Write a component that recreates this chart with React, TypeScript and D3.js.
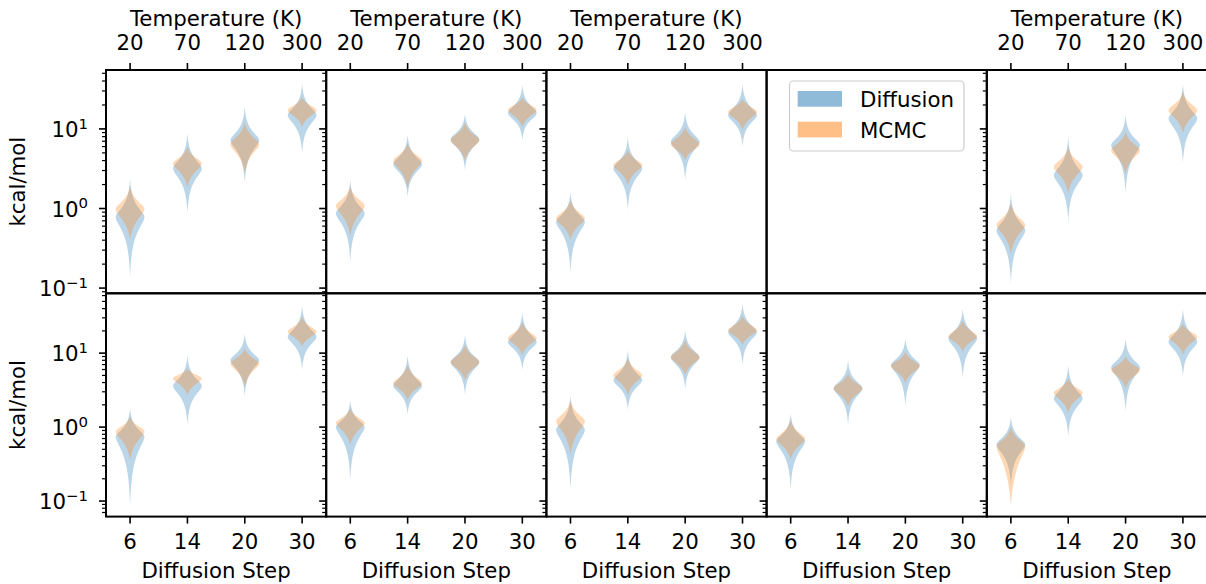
import React from "react";
import * as d3 from "d3";

// ---------- data ----------
const temperatures = ["20", "70", "120", "300"];
const diffusionSteps = ["6", "14", "20", "30"];
const seriesNames = ["Diffusion", "MCMC"];
const topYDomain = [0.086, 55];
const bottomYDomain = [0.0616, 64.4];

// each violin: [lowest tip, mode, highest tip] in kcal/mol; null = empty panel
const diffusionTop = [
  [[0.137, 0.78, 2.4], [0.87, 3.18, 8.9], [2.06, 7.2, 19], [4.9, 14.9, 37]],
  [[0.21, 0.87, 2.3], [1.39, 3.6, 8.5], [3.0, 7.4, 15.6], [7.2, 15.8, 36]],
  [[0.153, 0.68, 1.6], [0.95, 3.2, 7.9], [2.27, 6.9, 16.4], [6.0, 14.9, 37]],
  null,
  [[0.114, 0.53, 1.54], [0.68, 2.62, 7.9], [1.54, 6.25, 14.9], [3.7, 13.5, 37]],
];
const mcmcTop = [
  [[0.4, 0.98, 1.9], [1.85, 3.68, 5.9], [2.77, 6.4, 12.0], [10.6, 17.2, 25]],
  [[0.45, 1.08, 1.9], [1.8, 4.0, 6.6], [4.0, 7.2, 12.0], [10.5, 17.4, 25]],
  [[0.4, 0.75, 1.27], [1.96, 3.5, 5.4], [4.06, 6.4, 10.6], [9.6, 16.4, 24]],
  null,
  [[0.27, 0.62, 1.16], [1.54, 3.33, 5.96], [2.75, 5.4, 9.2], [8.8, 17.2, 29]],
];
const diffusionBottom = [
  [[0.085, 0.74, 1.8], [1.07, 3.6, 9.4], [2.58, 8.0, 18.4], [5.9, 16.6, 44]],
  [[0.19, 1.0, 2.3], [1.46, 3.6, 9.4], [2.7, 7.55, 17.5], [5.9, 14.1, 36]],
  [[0.14, 0.92, 2.7], [1.7, 4.3, 11], [3.2, 8.8, 20.4], [6.9, 19.2, 47]],
  [[0.142, 0.64, 1.54], [1.07, 3.34, 8.0], [1.89, 6.9, 15.8], [4.56, 15.8, 40]],
  [[0.158, 0.58, 1.39], [0.74, 2.45, 6.9], [1.62, 6.4, 15.8], [4.8, 14.2, 40]],
];
const mcmcBottom = [
  [[0.36, 0.87, 1.39], [2.7, 4.56, 6.2], [3.5, 7.25, 11.6], [12.2, 19.4, 30.9]],
  [[0.57, 1.14, 1.8], [2.3, 3.9, 6.9], [4.3, 7.55, 12.8], [9.4, 15.9, 26]],
  [[0.42, 1.2, 2.3], [2.7, 5.0, 8.5], [5.0, 8.8, 15], [12.8, 20.4, 32]],
  [[0.36, 0.69, 1.25], [1.89, 3.34, 5.3], [3.9, 6.7, 10.4], [10.4, 16.9, 27.8]],
  [[0.085, 0.55, 1.0], [1.54, 2.9, 4.56], [3.34, 5.9, 9.1], [9.4, 16.6, 25]],
];

// ---------- layout ----------
const WIDTH = 1206;
const HEIGHT = 584;
const PANEL_LEFT = 106;
const PANEL_W = 220.2;
const ROW_TOP = [70, 293.3];
const ROW_H = 223.3;
const FONT = "DejaVu Sans, sans-serif";
const FS = 21.3;
const BLUE = "#1f77b4";
const ORANGE = "#ff7f0e";

type V = number[];

function violinPath(v: V, pos: number, x: d3.ScaleLinear<number, number>, y: d3.ScaleLogarithmic<number, number>, k: number) {
  const [lo, mode, hi] = v;
  const ll = Math.log10(lo), lm = Math.log10(mode), lh = Math.log10(hi);
  const e = 0.07;
  const n = 200;
  const ts = d3.range(n + 1).map((i) => ll + ((lh - ll) * i) / n);
  ts.push(lm);
  ts.sort((a, b) => a - b);
  const half = 0.25;
  const wAt = (t: number) => {
    const d = t - lm;
    const L = d >= 0 ? lh - lm : lm - ll;
    const deff = Math.sqrt(d * d + e * e) - e;
    const Leff = Math.sqrt(L * L + e * e) - e;
    const u = Math.min(1, Leff > 0 ? deff / Leff : 1);
    return (half * (Math.exp(-k * u) - Math.exp(-k))) / (1 - Math.exp(-k));
  };
  const area = d3
    .area<number>()
    .y((t) => y(Math.pow(10, t)))
    .x0((t) => x(pos - wAt(t)))
    .x1((t) => x(pos + wAt(t)))
    .curve(d3.curveLinear);
  return area(ts) || "";
}

function Panel({ col, row }: { col: number; row: number }) {
  const left = PANEL_LEFT + col * PANEL_W;
  const top = ROW_TOP[row];
  const x = d3.scaleLinear().domain([-0.42, 3.42]).range([left, left + PANEL_W]);
  const y = d3
    .scaleLog()
    .domain(row === 0 ? topYDomain : bottomYDomain)
    .range([top + ROW_H, top]);
  const blue = row === 0 ? diffusionTop[col] : diffusionBottom[col];
  const orange = row === 0 ? mcmcTop[col] : mcmcBottom[col];
  const hasData = blue !== null;
  const dom = y.domain();
  const majors: number[] = [];
  const minors: number[] = [];
  for (let p = -3; p <= 3; p++) {
    for (let m = 1; m <= 9; m++) {
      const val = m * Math.pow(10, p);
      if (val >= dom[0] && val <= dom[1]) (m === 1 ? majors : minors).push(val);
    }
  }
  const cats = row === 0 ? temperatures : diffusionSteps;
  const cx = left + PANEL_W / 2;
  return (
    <g>
      {hasData &&
        (blue as V[]).map((v, i) => (
          <path key={"b" + i} d={violinPath(v, i, x, y, 3.2)} fill={BLUE} fillOpacity={0.3} stroke="none" />
        ))}
      {hasData &&
        (orange as V[]).map((v, i) => (
          <path key={"o" + i} d={violinPath(v, i, x, y, 2.2)} fill={ORANGE} fillOpacity={0.3} stroke="none" />
        ))}
      {hasData && (
        <g stroke="#000" strokeWidth={1.6}>
          {majors.map((m) => (
            <line key={"M" + m} x1={left - 7} x2={left} y1={y(m)} y2={y(m)} />
          ))}
          {minors.map((m) => (
            <line key={"m" + m} x1={left - 4} x2={left} y1={y(m)} y2={y(m)} strokeWidth={1.2} />
          ))}
        </g>
      )}
      {hasData && col === 0 &&
        majors.map((m) => {
          const ex = Math.round(Math.log10(m));
          return (
            <text key={"t" + m} x={88} y={y(m) + 8.3} textAnchor="end" fontFamily={FONT} fontSize={FS}>
              <tspan>10</tspan>
              <tspan dy={-8.6} fontSize={FS * 0.7}>{ex < 0 ? "\u2212" + Math.abs(ex) : String(ex)}</tspan>
            </text>
          );
        })}
      {hasData && row === 0 && (
        <g>
          {cats.map((c, i) => (
            <g key={c}>
              <line x1={x(i)} x2={x(i)} y1={top} y2={top - 7} stroke="#000" strokeWidth={1.6} />
              <text x={x(i)} y={50} textAnchor="middle" fontFamily={FONT} fontSize={FS}>{c}</text>
            </g>
          ))}
          <text x={cx} y={26} textAnchor="middle" fontFamily={FONT} fontSize={FS}>Temperature (K)</text>
        </g>
      )}
      {row === 1 && (
        <g>
          {cats.map((c, i) => (
            <g key={c}>
              <line x1={x(i)} x2={x(i)} y1={top + ROW_H} y2={top + ROW_H + 7} stroke="#000" strokeWidth={1.6} />
              <text x={x(i)} y={549} textAnchor="middle" fontFamily={FONT} fontSize={FS}>{c}</text>
            </g>
          ))}
          <text x={cx} y={578} textAnchor="middle" fontFamily={FONT} fontSize={FS}>Diffusion Step</text>
        </g>
      )}
      <rect x={left} y={top} width={PANEL_W} height={ROW_H} fill="none" stroke="#000" strokeWidth={2} />
    </g>
  );
}

export default function App() {
  const cols = [0, 1, 2, 3, 4];
  return (
    <svg width={WIDTH} height={HEIGHT} style={{ position: "absolute", left: 0, top: 0, background: "#fff" }}>
      <rect width={WIDTH} height={HEIGHT} fill="#fff" />
      {[0, 1].map((r) => cols.map((c) => <Panel key={r + "-" + c} col={c} row={r} />))}
      {[0, 1].map((r) => (
        <text key={"yl" + r} transform={`translate(25,${ROW_TOP[r] + ROW_H / 2}) rotate(-90)`} textAnchor="middle" fontFamily={FONT} fontSize={FS}>
          kcal/mol
        </text>
      ))}
      <g>
        <rect x={789.5} y={81} width={174.5} height={70} rx={4} fill="#fff" fillOpacity={0.8} stroke="#cccccc" strokeWidth={1.2} />
        {seriesNames.map((s, i) => (
          <g key={s}>
            <rect x={797.7} y={91 + i * 30.7} width={44.3} height={15.7} fill={i === 0 ? BLUE : ORANGE} fillOpacity={0.5} />
            <text x={860} y={106.7 + i * 31} fontFamily={FONT} fontSize={FS}>{s}</text>
          </g>
        ))}
      </g>
    </svg>
  );
}
